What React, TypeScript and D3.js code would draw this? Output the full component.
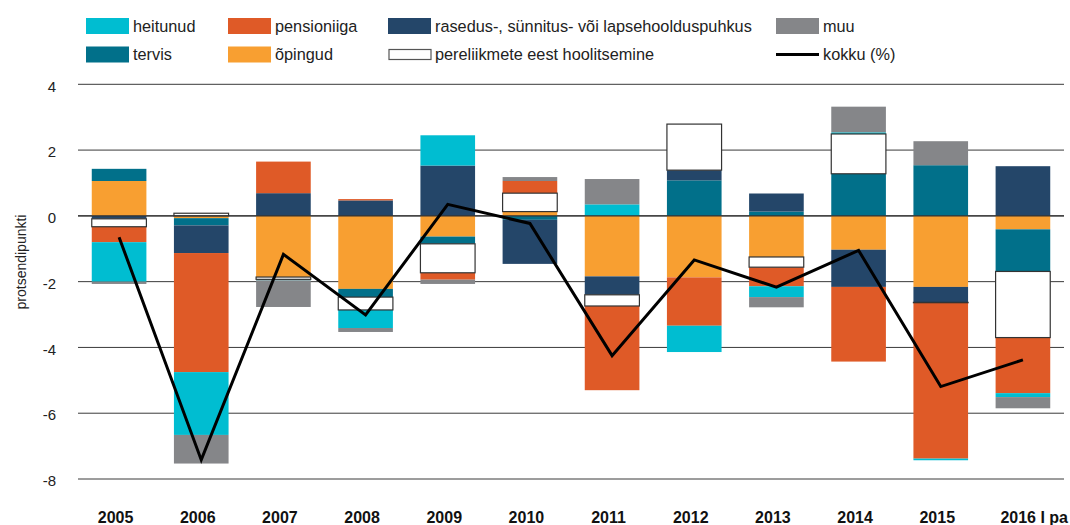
import React from "react";
import * as d3 from "d3";

const years = ["2005", "2006", "2007", "2008", "2009", "2010", "2011", "2012", "2013", "2014", "2015", "2016 I pa"];

const opingud = [1.06, -0.07, -1.86, -2.22, -0.63, 0.13, -1.84, -1.87, -1.25, -1.03, -2.16, -0.41];
const tervis = [0.37, -0.22, 0, -0.25, -0.22, -0.12, 0, 1.08, 0.13, 1.28, 1.54, -1.28];
const rasedus = [-0.09, -0.84, 0.69, 0.47, 1.53, -1.34, -0.56, 0.31, 0.55, -1.13, -0.47, 1.51];
const pereliikmete = [-0.24, 0.08, -0.07, -0.39, -0.88, 0.56, -0.34, 1.4, -0.31, 1.21, -0.01, -2.01];
const pensioniiga = [-0.47, -3.62, 0.96, 0.04, -0.21, 0.37, -2.56, -1.47, -0.58, -2.27, -4.74, -1.69];
const heitunud = [-1.2, -1.91, -0.03, -0.55, 0.92, 0, 0.35, -0.8, -0.33, 0.05, -0.05, -0.12];
const muu = [-0.07, -0.87, -0.81, -0.12, -0.13, 0.12, 0.77, 0, -0.31, 0.78, 0.73, -0.34];
const kokku = [-0.65, -7.42, -1.17, -3.01, 0.35, -0.23, -4.25, -1.34, -2.17, -1.05, -5.19, -4.38];

const yTicks = [4, 2, 0, -2, -4, -6, -8];

const seriesKeys = ["opingud", "tervis", "rasedus", "pereliikmete", "pensioniiga", "heitunud", "muu"];
const seriesValues: Record<string, number[]> = { opingud, tervis, rasedus, pereliikmete, pensioniiga, heitunud, muu };
const seriesColors: Record<string, string> = {
  heitunud: "#00bdd1",
  pensioniiga: "#df5a27",
  rasedus: "#244669",
  muu: "#858689",
  tervis: "#01708a",
  opingud: "#f89f31",
  pereliikmete: "#ffffff",
};

const legendRow1 = [
  { key: "heitunud", label: "heitunud" },
  { key: "pensioniiga", label: "pensioniiga" },
  { key: "rasedus", label: "rasedus-, sünnitus- või lapsehoolduspuhkus" },
  { key: "muu", label: "muu" },
];
const legendRow2 = [
  { key: "tervis", label: "tervis" },
  { key: "opingud", label: "õpingud" },
  { key: "pereliikmete", label: "pereliikmete eest hoolitsemine" },
  { key: "kokku", label: "kokku (%)" },
];

const W = 1070;
const H = 525;
const FONT = "'Liberation Sans', Arial, Helvetica, sans-serif";

export default function App() {
  const x = d3.scaleBand<string>().domain(years).range([78, 1064]).paddingInner(0.335).paddingOuter(0.1675);
  const y = d3.scaleLinear().domain([-8, 4]).range([479, 84.3]);

  const table = years.map((yr, i) => {
    const row: any = { year: yr };
    seriesKeys.forEach((k) => (row[k] = seriesValues[k][i]));
    return row;
  });
  const stacked = d3
    .stack<any>()
    .keys(seriesKeys)
    .order(d3.stackOrderNone)
    .offset(d3.stackOffsetDiverging)(table);

  const drawOrder = ["opingud", "tervis", "rasedus", "pensioniiga", "heitunud", "muu", "pereliikmete"];

  const line = d3
    .line<number>()
    .x((_, i) => (x(years[i]) as number) + x.bandwidth() / 2)
    .y((d) => y(d));

  const legendCols = [86, 228, 388, 776];
  const legendW = 43;

  const renderLegendItem = (item: { key: string; label: string }, col: number, cy: number) => {
    const lx = legendCols[col];
    let sw;
    if (item.key === "kokku") {
      sw = <line x1={lx} x2={lx + legendW} y1={cy} y2={cy} stroke="#000" strokeWidth={3} />;
    } else if (item.key === "pereliikmete") {
      sw = <rect x={lx + 1} y={cy - 5} width={legendW - 1} height={10} fill="#fff" stroke="#555" strokeWidth={1.2} />;
    } else {
      sw = <rect x={lx} y={cy - 8} width={legendW} height={16} fill={seriesColors[item.key]} />;
    }
    return (
      <g key={item.key}>
        {sw}
        <text x={lx + legendW + 4} y={cy} dy="0.36em" fontSize={16.3} fill="#222" fontFamily={FONT}>
          {item.label}
        </text>
      </g>
    );
  };

  return (
    <svg width={W} height={H} style={{ position: "absolute", left: 0, top: 0, background: "#fff" }}>
      <rect x={0} y={0} width={W} height={H} fill="#fff" />
      {yTicks.map((t) => (
        <line key={"g" + t} x1={78} x2={1064} y1={y(t)} y2={y(t)} stroke="#3a3a3a" strokeWidth={1} />
      ))}
      {yTicks.map((t) => (
        <text key={"t" + t} x={56} y={y(t) + 2} dy="0.35em" textAnchor="end" fontSize={15} fill="#222" fontFamily={FONT}>
          {t}
        </text>
      ))}
      <text transform="translate(26,262) rotate(-90)" textAnchor="middle" fontSize={14} fill="#222" fontFamily={FONT}>
        protsendipunkti
      </text>
      {drawOrder.map((k) => {
        const layer = stacked.find((s) => s.key === k)!;
        const isWhite = k === "pereliikmete";
        return (
          <g key={k}>
            {layer.map((d, i) => {
              const y0 = y(d[0]);
              const y1 = y(d[1]);
              const top = Math.min(y0, y1);
              const h = Math.abs(y0 - y1);
              if (!isWhite && h < 0.01) return null;
              return (
                <rect
                  key={i}
                  x={x(years[i])}
                  y={top}
                  width={x.bandwidth()}
                  height={Math.max(h, isWhite ? 0.3 : 0)}
                  fill={seriesColors[k]}
                  stroke={isWhite ? "#333" : "none"}
                  strokeWidth={isWhite ? 1.2 : 0}
                />
              );
            })}
          </g>
        );
      })}
      <line x1={78} x2={1064} y1={y(0)} y2={y(0)} stroke="#333" strokeWidth={1.2} />
      <path d={line(kokku) as string} fill="none" stroke="#000" strokeWidth={3} strokeLinejoin="miter" />
      {years.map((yr, i) => {
        const last = i === years.length - 1;
        const cx = (x(yr) as number) + x.bandwidth() / 2 - 3.5;
        return (
          <text
            key={yr}
            x={last ? 1068 : cx}
            y={523}
            textAnchor={last ? "end" : "middle"}
            fontSize={16}
            fontWeight="bold"
            fill="#111"
            fontFamily={FONT}
          >
            {yr}
          </text>
        );
      })}
      {legendRow1.map((it, c) => renderLegendItem(it, c, 26))}
      {legendRow2.map((it, c) => renderLegendItem(it, c, 54.5))}
    </svg>
  );
}
